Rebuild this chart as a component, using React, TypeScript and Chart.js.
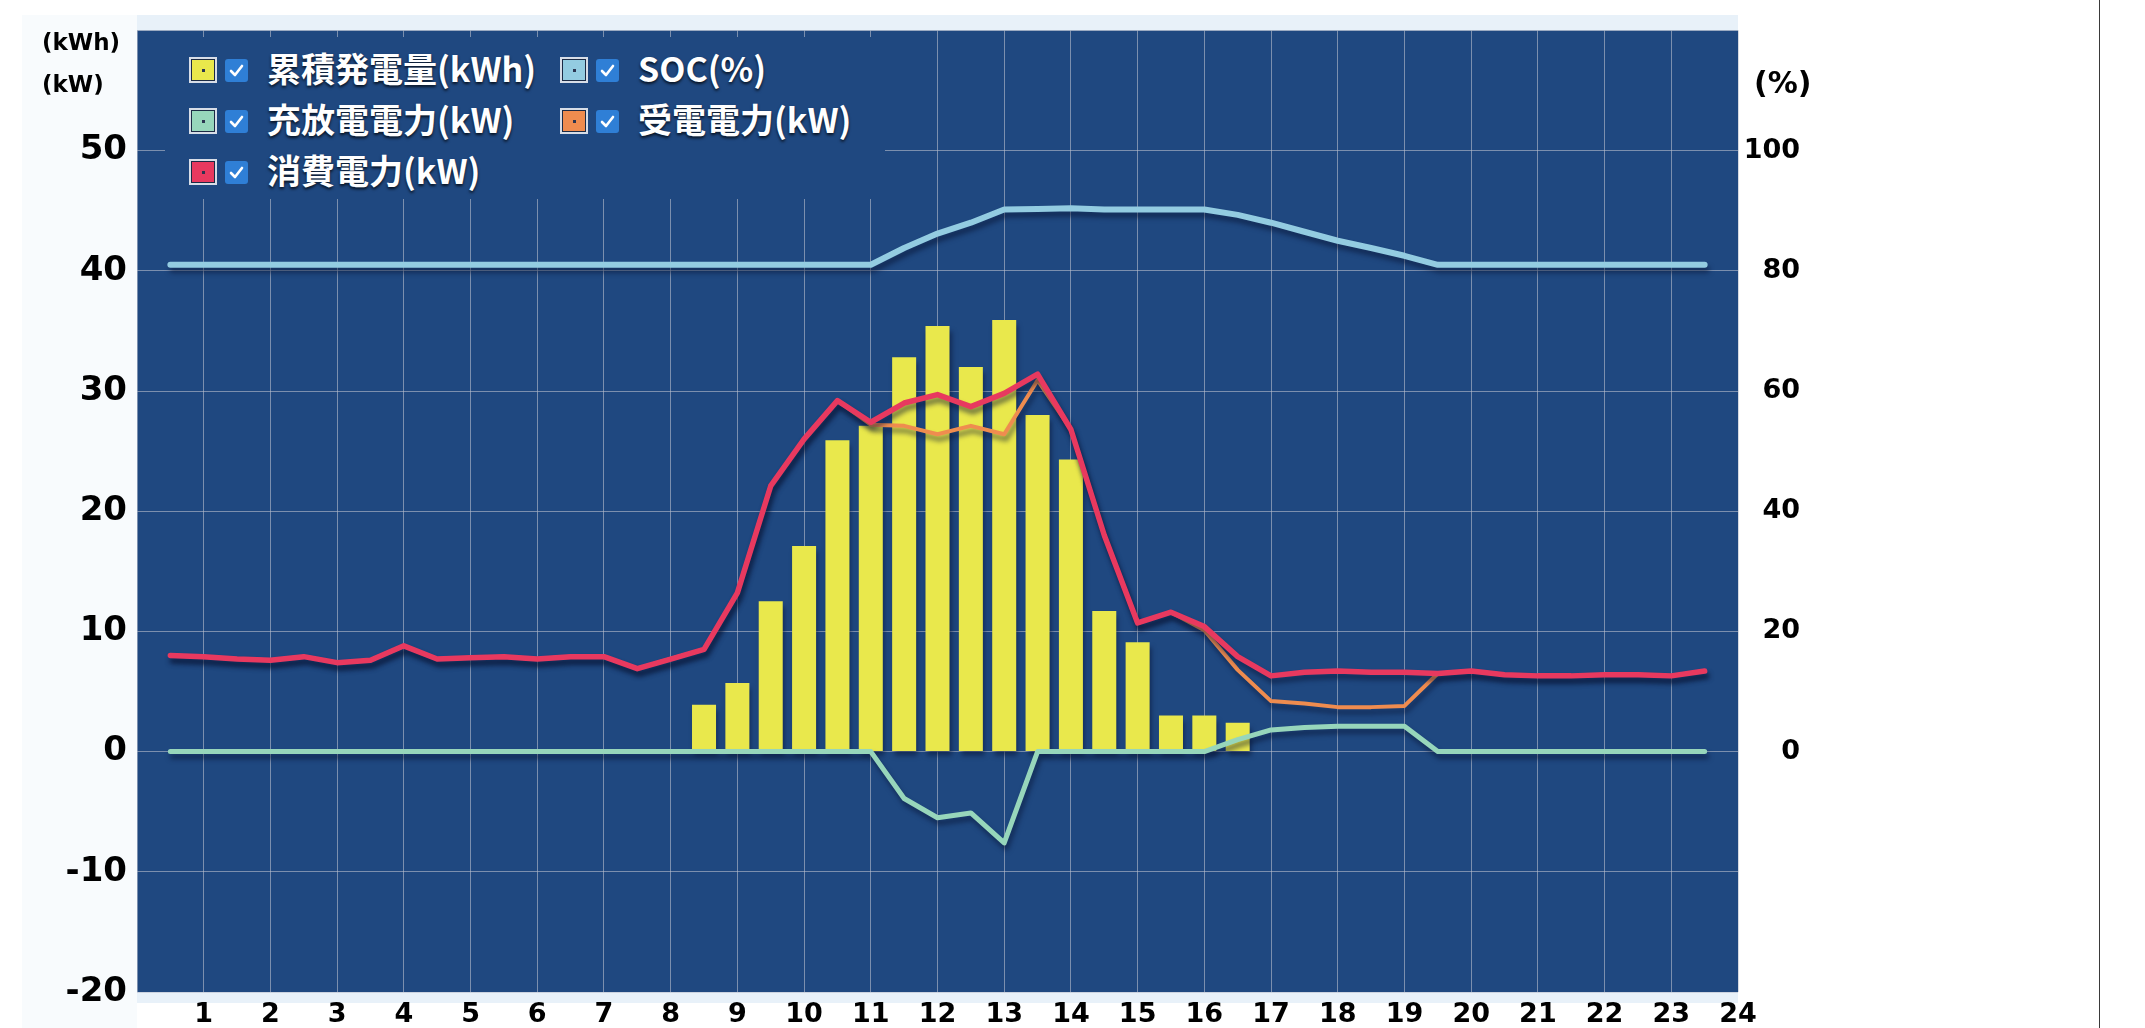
import React, { useEffect, useRef } from 'react';
import { Chart, registerables } from 'chart.js';

Chart.register(...registerables);

// ---- data ----
const TIMES = [0.5, 1, 1.5, 2, 2.5, 3, 3.5, 4, 4.5, 5, 5.5, 6, 6.5, 7, 7.5, 8, 8.5, 9, 9.5, 10, 10.5, 11, 11.5, 12, 12.5, 13, 13.5, 14, 14.5, 15, 15.5, 16, 16.5, 17, 17.5, 18, 18.5, 19, 19.5, 20, 20.5, 21, 21.5, 22, 22.5, 23, 23.5];

const CONSUMPTION = [8.0, 7.9, 7.7, 7.6, 7.9, 7.4, 7.6, 8.8, 7.7, 7.8, 7.9, 7.7, 7.9, 7.9, 6.9, 7.7, 8.5, 13.2, 22.1, 26.0, 29.2, 27.4, 29.0, 29.7, 28.7, 29.8, 31.4, 26.8, 18.0, 10.7, 11.6, 10.4, 7.9, 6.3, 6.6, 6.7, 6.6, 6.6, 6.5, 6.7, 6.4, 6.3, 6.3, 6.4, 6.4, 6.3, 6.7];

const GRID_POWER = [8.0, 7.9, 7.7, 7.6, 7.9, 7.4, 7.6, 8.8, 7.7, 7.8, 7.9, 7.7, 7.9, 7.9, 6.9, 7.7, 8.5, 13.2, 22.1, 26.0, 29.2, 27.2, 27.1, 26.4, 27.1, 26.4, 30.9, 26.8, 18.0, 10.7, 11.6, 10.1, 6.8, 4.2, 4.0, 3.7, 3.7, 3.8, 6.5, 6.7, 6.4, 6.3, 6.3, 6.4, 6.4, 6.3, 6.7];

const BATTERY_POWER = [0, 0, 0, 0, 0, 0, 0, 0, 0, 0, 0, 0, 0, 0, 0, 0, 0, 0, 0, 0, 0, 0, -3.9, -5.5, -5.1, -7.6, 0, 0, 0, 0, 0, 0, 1.0, 1.8, 2.0, 2.1, 2.1, 2.1, 0, 0, 0, 0, 0, 0, 0, 0, 0];

const SOC = [81, 81, 81, 81, 81, 81, 81, 81, 81, 81, 81, 81, 81, 81, 81, 81, 81, 81, 81, 81, 81, 81, 83.8, 86.2, 88.0, 90.2, 90.3, 90.4, 90.2, 90.2, 90.2, 90.2, 89.3, 88.0, 86.5, 85.0, 83.8, 82.5, 81.0, 81, 81, 81, 81, 81, 81, 81, 81];

const GEN_TIMES = [8.5, 9, 9.5, 10, 10.5, 11, 11.5, 12, 12.5, 13, 13.5, 14, 14.5, 15, 15.5, 16, 16.5];
const GENERATION = [3.9, 5.7, 12.5, 17.1, 25.9, 27.1, 32.8, 35.4, 32.0, 35.9, 28.0, 24.3, 11.7, 9.1, 3.0, 3.0, 2.4];

const X_TICK_LABELS = ['1', '2', '3', '4', '5', '6', '7', '8', '9', '10', '11', '12', '13', '14', '15', '16', '17', '18', '19', '20', '21', '22', '23', '24'];
const LEFT_TICK_LABELS = [-20, -10, 0, 10, 20, 30, 40, 50];
const RIGHT_TICK_LABELS = [0, 20, 40, 60, 80, 100];

const SERIES_LABELS = ['累積発電量(kWh)', 'SOC(%)', '充放電電力(kW)', '受電電力(kW)', '消費電力(kW)'];
const SERIES_COLORS = ['#e9e84c', '#93cce1', '#97d6bb', '#ef8c4f', '#e8395f'];

const PLOT_BG = '#1f4880';
const GRID_COLOR = 'rgba(185,192,205,0.6)';

const bgPlugin = {
  id: 'bgPlugin',
  beforeDraw(chart: any) {
    const { ctx, chartArea: a } = chart;
    ctx.save();
    ctx.fillStyle = '#ffffff';
    ctx.fillRect(0, 0, chart.width, chart.height);
    ctx.fillStyle = '#f8fbfd';
    ctx.fillRect(22, 15, a.left - 22, chart.height - 15);
    ctx.fillStyle = '#e8f1f9';
    ctx.fillRect(a.left, 15, a.right - a.left, a.bottom + 11 - 15);
    ctx.fillStyle = PLOT_BG;
    ctx.fillRect(a.left, a.top, a.right - a.left, a.bottom - a.top);
    ctx.restore();
  },
};

const shadowPlugin = {
  id: 'shadowPlugin',
  beforeDatasetDraw(chart: any) {
    const ctx = chart.ctx;
    ctx.save();
    ctx.shadowColor = 'rgba(8,18,50,0.55)';
    ctx.shadowBlur = 5;
    ctx.shadowOffsetX = 2;
    ctx.shadowOffsetY = 5;
  },
  afterDatasetDraw(chart: any) {
    chart.ctx.restore();
  },
};

const pts = (ys: number[]) => TIMES.map((t, i) => ({ x: t, y: ys[i] }));

function lineDs(label: string, color: string, data: any[], width: number, order: number, axis = 'y') {
  return {
    type: 'line' as const,
    label,
    data,
    borderColor: color,
    backgroundColor: color,
    borderWidth: width,
    pointRadius: 0,
    pointHoverRadius: 0,
    tension: 0,
    fill: false,
    borderCapStyle: 'round',
    borderJoinStyle: 'round',
    yAxisID: axis,
    order,
  };
}

function LegendItem({ idx, left, cy }: { idx: number; left: number; cy: number }) {
  return (
    <div style={{ position: 'absolute', left, top: cy - 25, height: 50, display: 'flex', alignItems: 'center', whiteSpace: 'nowrap' }}>
      <div style={{ width: 28, height: 26, boxSizing: 'border-box', background: '#d7dde7', padding: 2 }}>
        <div style={{ width: '100%', height: '100%', boxSizing: 'border-box', border: '1px solid #1b2a44', background: SERIES_COLORS[idx], display: 'flex', alignItems: 'center', justifyContent: 'center' }}>
          <div style={{ width: 3, height: 3, background: '#2b3550' }} />
        </div>
      </div>
      <div style={{ width: 23, height: 23, marginLeft: 8, borderRadius: 3, background: '#2f7fd6', display: 'flex', alignItems: 'center', justifyContent: 'center' }}>
        <svg width="15" height="15" viewBox="0 0 15 15">
          <polyline points="2,8 6,12 13,3" fill="none" stroke="#ffffff" strokeWidth="2.6" strokeLinecap="round" strokeLinejoin="round" />
        </svg>
      </div>
      <span style={{ marginLeft: 19, position: 'relative', top: -2, color: '#ffffff', fontFamily: '"Noto Sans CJK JP", "Noto Sans", sans-serif', fontWeight: 700, fontSize: 34, lineHeight: 1, textShadow: '0 2px 3px rgba(0,0,0,0.75)' }}>
        {SERIES_LABELS[idx]}
      </span>
    </div>
  );
}

export default function App() {
  const canvasRef = useRef<HTMLCanvasElement | null>(null);

  useEffect(() => {
    const canvas = canvasRef.current;
    if (!canvas) return;
    const tickFont = (size: number) => ({ family: '"DejaVu Sans", Verdana, sans-serif', weight: 'bold' as const, size });

    const chart = new Chart(canvas, {
      type: 'bar',
      data: {
        datasets: [
          lineDs(SERIES_LABELS[1], SERIES_COLORS[1], pts(SOC), 6, 1, 'ySoc') as any,
          lineDs(SERIES_LABELS[4], SERIES_COLORS[4], pts(CONSUMPTION), 5.5, 2) as any,
          lineDs(SERIES_LABELS[3], SERIES_COLORS[3], pts(GRID_POWER), 4, 3) as any,
          lineDs(SERIES_LABELS[2], SERIES_COLORS[2], pts(BATTERY_POWER), 5, 4) as any,
          {
            type: 'bar' as const,
            label: SERIES_LABELS[0],
            data: GEN_TIMES.map((t, i) => ({ x: t, y: GENERATION[i] })),
            backgroundColor: SERIES_COLORS[0],
            borderWidth: 0,
            categoryPercentage: 0.8,
            barPercentage: 0.9,
            yAxisID: 'y',
            order: 5,
          } as any,
        ],
      },
      options: {
        responsive: false,
        maintainAspectRatio: false,
        devicePixelRatio: 1,
        animation: false,
        events: [],
        layout: { padding: { left: 0, right: 345, top: 24, bottom: 0 } },
        plugins: {
          legend: { display: false },
          tooltip: { enabled: false },
          title: { display: false },
        },
        scales: {
          x: {
            type: 'linear',
            min: 0,
            max: 24,
            offset: false,
            ticks: {
              stepSize: 1,
              autoSkip: false,
              maxRotation: 0,
              minRotation: 0,
              padding: 7,
              color: '#000000',
              font: tickFont(27),
              callback: (v: any) => (X_TICK_LABELS.includes(String(v)) ? String(v) : ''),
            },
            grid: { color: GRID_COLOR, lineWidth: 1, drawTicks: false, offset: false },
            border: { display: false },
            afterFit: (s: any) => { s.height = 36; },
          } as any,
          y: {
            type: 'linear',
            position: 'left',
            min: -20,
            max: 60,
            ticks: {
              stepSize: 10,
              padding: 10,
              color: '#000000',
              font: tickFont(34),
              callback: (v: any) => (LEFT_TICK_LABELS.includes(Number(v)) ? String(v) : ''),
            },
            grid: { color: GRID_COLOR, lineWidth: 1, drawTicks: false },
            border: { display: false },
            afterFit: (s: any) => { s.width = 137; },
          } as any,
          ySoc: {
            type: 'linear',
            position: 'right',
            min: -40,
            max: 120,
            ticks: {
              stepSize: 20,
              padding: 0,
              crossAlign: 'far',
              color: '#000000',
              font: tickFont(27),
              callback: (v: any) => (RIGHT_TICK_LABELS.includes(Number(v)) ? String(v) : ''),
            },
            grid: { display: false, drawTicks: false },
            border: { display: false },
            afterFit: (s: any) => { s.width = 62; },
          } as any,
        },
      },
      plugins: [bgPlugin, shadowPlugin],
    });
    return () => chart.destroy();
  }, []);

  const unitStyle = (size: number): React.CSSProperties => ({
    position: 'absolute',
    fontFamily: '"DejaVu Sans", Verdana, sans-serif',
    fontWeight: 700,
    fontSize: size,
    lineHeight: 1,
    color: '#000',
    whiteSpace: 'nowrap',
  });

  return (
    <div style={{ position: 'fixed', left: 0, top: 0, width: 2145, height: 1028, background: '#ffffff', overflow: 'hidden' }}>
      <canvas ref={canvasRef} width={2145} height={1028} style={{ position: 'absolute', left: 0, top: 0, width: 2145, height: 1028 }} />
      <div style={{ ...unitStyle(23), left: 42, top: 31 }}>(kWh)</div>
      <div style={{ ...unitStyle(23), left: 42, top: 73 }}>(kW)</div>
      <div style={{ ...unitStyle(30), left: 1754, top: 68 }}>(%)</div>
      <div style={{ position: 'absolute', left: 165, top: 37, width: 720, height: 162, background: PLOT_BG }} />
      <LegendItem idx={0} left={189} cy={70} />
      <LegendItem idx={1} left={560} cy={70} />
      <LegendItem idx={2} left={189} cy={121} />
      <LegendItem idx={3} left={560} cy={121} />
      <LegendItem idx={4} left={189} cy={172} />
      <div style={{ position: 'absolute', left: 2099, top: 0, width: 1, height: 1028, background: '#3a3a3a' }} />
    </div>
  );
}
